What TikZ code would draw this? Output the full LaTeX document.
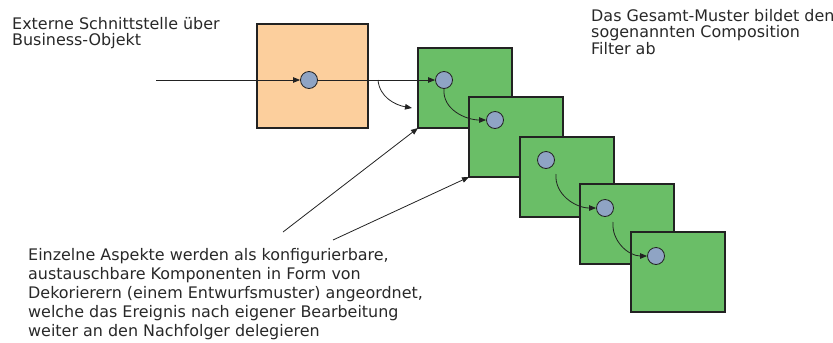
\documentclass[tikz,border=0pt]{standalone}
\usepackage{fontspec}
\setmainfont{DejaVu Sans}
\usetikzlibrary{arrows.meta}
\definecolor{peach}{RGB}{252,207,157}
\definecolor{leaf}{RGB}{106,190,103}
\definecolor{dot}{RGB}{143,164,196}
\definecolor{ink}{RGB}{34,34,34}
\definecolor{txtc}{RGB}{40,40,40}
\begin{document}
\begin{tikzpicture}[x=1bp,y=-1bp,
  box/.style={draw=ink, line width=1.1bp, minimum width=94bp, minimum height=80bp, anchor=north west, inner sep=0, outer sep=0},
  obox/.style={box, fill=peach, minimum width=111bp, minimum height=104bp},
  gbox/.style={box, fill=leaf},
  dotn/.style={circle, draw=ink, line width=0.8bp, fill=dot, minimum size=17bp, inner sep=0},
  arr/.style={draw=ink, line width=0.8bp, -{Triangle[length=7bp,width=5.5bp]}},
  txt/.style={text=txtc, align=left, inner sep=0, anchor=north west}
]
\useasboundingbox (0,0) rectangle (833,342);
% boxes
\node[obox] (o) at (257,24) {};
\node[gbox] (g1) at (418,48) {};
\node[gbox] (g2) at (469,97) {};
\node[gbox] (g3) at (520,137) {};
\node[gbox] (g4) at (580,184) {};
\node[gbox] (g5) at (631,232) {};
% dots
\node[dotn] (c0) at (309,80) {};
\node[dotn] (c1) at (444,80) {};
\node[dotn] (c2) at (495,120) {};
\node[dotn] (c3) at (546,160) {};
\node[dotn] (c4) at (605,208) {};
\node[dotn] (c5) at (656,256) {};
% free ends
\coordinate (in) at (156,80);
\coordinate (b0) at (378,80);
\coordinate (bt) at (412,108);
\coordinate (s3) at (556,174);
\coordinate (s4) at (613,222);
\coordinate (p1) at (283,232);
\coordinate (p2) at (333,240);
% connectors
\draw[arr] (in) -- (c0);
\draw[arr] (c0) -- (c1);
\draw[arr] (b0) to[out=-85,in=170] (bt);
\draw[arr] (c1.south) to[out=-95,in=180] (c2.west);
\draw[arr] (s3) to[out=-95,in=180] (c4.west);
\draw[arr] (s4) to[out=-95,in=180] (c5.west);
\draw[arr] (p1) -- (g1.south west);
\draw[arr] (p2) -- (g2.south west);
% texts
\node[txt, font=\fontsize{16}{16.5}\selectfont] (t1) at (12,17) {Externe Schnittstelle über\\Business-Objekt};
\node[txt, font=\fontsize{16}{16.5}\selectfont] (t2) at (591,9) {Das Gesamt-Muster bildet den\\sogenannten Composition\\Filter ab};
\node[txt, font=\fontsize{16}{19}\selectfont] (t3) at (28,248) {Einzelne Aspekte werden als konfigurierbare,\\austauschbare Komponenten in Form von\\Dekorierern (einem Entwurfsmuster) angeordnet,\\welche das Ereignis nach eigener Bearbeitung\\weiter an den Nachfolger delegieren};
\end{tikzpicture}
\end{document}
